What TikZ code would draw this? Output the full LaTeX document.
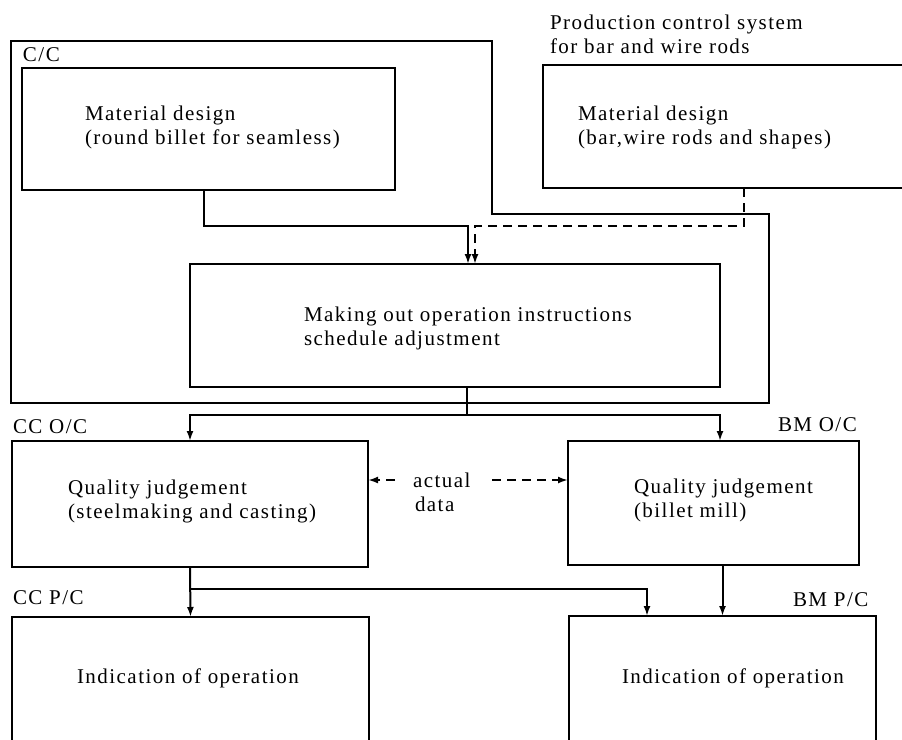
\documentclass[tikz,border=0pt]{standalone}
\usepackage{fontspec}
\setmainfont{Liberation Serif}[LetterSpace=7]
\usetikzlibrary{arrows.meta}

\begin{document}
\begin{tikzpicture}[x=1pt,y=-1pt,
  every node/.style={inner sep=0pt, outer sep=0pt},
  box/.style={draw, line width=2pt},
  txt/.style={anchor=west, align=left, font=\fontsize{21}{24}\selectfont},
  link/.style={line width=2pt, -{Latex[length=10pt,width=7pt]}},
  datalink/.style={link, dash pattern=on 9pt off 6pt}]
\clip (0,0) rectangle (902,739);

% C/C area
\draw[line width=2pt] (11,41) -- (492,41) -- (492,214) -- (769,214) -- (769,403) -- (11,403) -- cycle;
\node[txt] (cc) at (23,55) {C/C};
\node[txt] (pcs) at (550,34) {Production control system\\for bar and wire rods};

\node[box, minimum width=373pt, minimum height=122pt] (mdl) at (208.5,129) {};
\node[box, minimum width=402pt, minimum height=123pt] (mdr) at (744,126.5) {};
\node[box, minimum width=530pt, minimum height=123pt] (ctr) at (455,325.5) {};
\node[box, minimum width=356pt, minimum height=126pt] (qjl) at (190,504) {};
\node[box, minimum width=291pt, minimum height=124pt] (qjr) at (713.5,503) {};
\node[box, minimum width=357pt, minimum height=160pt] (pcl) at (190.5,697) {};
\node[box, minimum width=307pt, minimum height=160pt] (pcr) at (722.5,696) {};

\node[txt] (mdltxt) at (85,127.5) {Material design\\(round billet for seamless)};
\node[txt] (mdrtxt) at (578,127.5) {Material design\\(bar,wire rods and shapes)};
\node[txt] (ctrtxt) at (304,328) {Making out operation instructions\\schedule adjustment};
\node[txt] (ccoc) at (13,427) {CC O/C};
\node[txt] (bmoc) at (778,425) {BM O/C};
\node[txt] (qjltxt) at (68,501) {Quality judgement\\(steelmaking and casting)};
\node[txt] (qjrtxt) at (634,500) {Quality judgement\\(billet mill)};
\node[txt] (act) at (413,480) {actual};
\node[txt] (dat) at (415,504) {data};
\node[txt] (ccpc) at (13,598) {CC P/C};
\node[txt] (bmpc) at (793,600) {BM P/C};
\node[txt] (pcltxt) at (77,678) {Indication of operation};
\node[txt] (pcrtxt) at (622,678) {Indication of operation};

% links
\draw[link] ([xshift=-4.5pt]mdl.south) -- ++(0,36) -| ([xshift=13pt]ctr.north);
\draw[datalink] (mdr.south) -- ++(0,38) -| ([xshift=20pt]ctr.north);
\draw[link] ([xshift=12pt]ctr.south) -- ++(0,28) coordinate (fork) -| (qjl.north);
\draw[link] (fork) -| (qjr.north -| ctr.east);
\draw[link] (qjl.south) -- (pcl.north);
\draw[link] (qjl.south) -- ++(0,22) -| ([xshift=-75.5pt]pcr.north);
\draw[link] (pcr.north |- qjr.south) -- (pcr.north);
\draw[datalink] ([xshift=-18pt]act.west) -- (act.west -| qjl.east);
\draw[datalink] ([xshift=22pt]act.east) -- (act.east -| qjr.west);
\end{tikzpicture}
\end{document}
